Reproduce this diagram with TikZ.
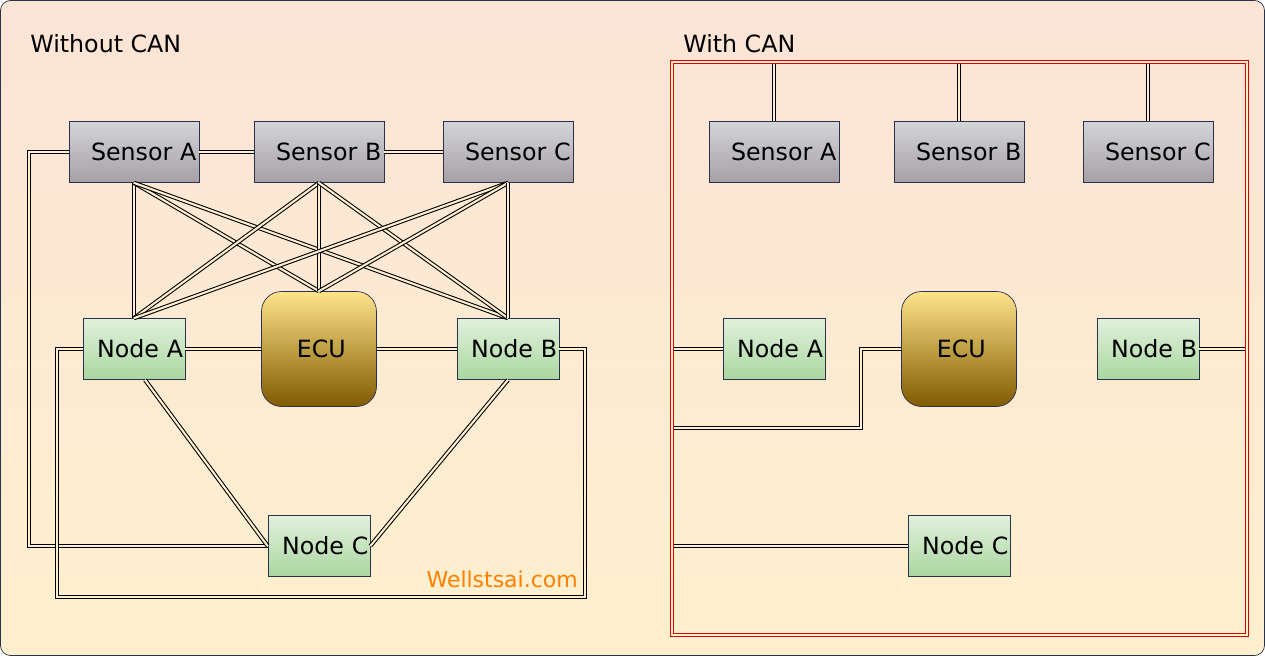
\documentclass[tikz,border=0pt]{standalone}
\usepackage{fontspec}
\setmainfont{DejaVu Sans}
\usetikzlibrary{positioning}

\definecolor{bgtop}{RGB}{252,228,214}
\definecolor{bgbot}{RGB}{254,240,206}
\definecolor{edge}{RGB}{40,50,75}
\definecolor{ecutop}{RGB}{255,228,140}
\definecolor{ecubot}{RGB}{128,90,0}
\definecolor{greytop}{RGB}{212,212,216}
\definecolor{greybot}{RGB}{165,160,165}
\definecolor{greentop}{RGB}{225,240,220}
\definecolor{greenbot}{RGB}{170,215,160}
\definecolor{mark}{RGB}{255,128,0}

\tikzset{
  sensor/.style={draw=edge, top color=greytop, bottom color=greybot, text width=2.6cm, minimum height=1.22cm, inner sep=0pt, execute at begin node={\hspace*{0.44cm}\mbox\bgroup}, execute at end node={\egroup}},
  ecunode/.style={draw=edge, top color=greentop, bottom color=greenbot, text width=2.04cm, minimum height=1.22cm, inner sep=0pt, execute at begin node={\hspace*{0.28cm}\mbox\bgroup}, execute at end node={\egroup}},
  ecu/.style={draw=edge, rounded corners=0.4cm, top color=ecutop, bottom color=ecubot, minimum width=2.3cm, minimum height=2.3cm},
  wire/.style={double=bgbot, draw=black, line width=0.6pt, double distance=1.2pt},
}

\begin{document}
\begin{tikzpicture}[x=0.02cm, y=-0.02cm, font=\fontsize{13.5}{16}\selectfont]

        % background
        \path[use as bounding box] (0,0) rectangle (1265,656);
        \draw[draw=edge, rounded corners=0.2cm, top color=bgtop, bottom color=bgbot] (0.5,0.5) rectangle (1264.5,655.5);

        \node[anchor=west, inner sep=0pt] (t1) at (30,44) {Without CAN};
        \node[anchor=west, inner sep=0pt] (t2) at (683,44) {With CAN};

        % without CAN
        \node[sensor] (sa) at (134,152) {Sensor A};
        \node[sensor] (sb) at (319,152) {Sensor B};
        \node[sensor] (sc) at (508,152) {Sensor C};
        \node[ecunode] (na) at (134,349) {Node A};
        \node[ecu] (ecu) at (319,349) {\hspace{0.2em}ECU};
        \node[ecunode] (nb) at (508,349) {Node B};
        \node[ecunode] (nc) at (319,546) {Node C};

        \draw[wire] (sa) -- (sb);
        \draw[wire] (sb) -- (sc);
        \draw[wire] (na) -- (ecu);
        \draw[wire] (ecu) -- (nb);
        \foreach \s in {sa,sb,sc}
          \foreach \t in {na,ecu,nb}
            \draw[wire] (\s.south) -- (\t.north);
        \draw[wire] (sa.west) -- (29,152) -- (29,546) -- (nc.west);
        \draw[wire] (na.west) -- (57,349) -- (57,597) -- (585,597) -- (585,349) -- (nb.east);
        \draw[wire] ([xshift=0.22cm]na.south) -- (nc.west);
        \draw[wire] (nb.south) -- (nc.east);

        \node[anchor=east, text=mark, inner sep=0pt, font=\fontsize{12.5}{15}\selectfont] (wm) at (578,579) {Wellstsai.com};

        % with CAN
        \draw[red!85!black, double=bgbot, double distance=1.5pt, line width=0.6pt] (672,62) rectangle (1247,635);
        \node[sensor] (sa2) at (774,152) {Sensor A};
        \node[sensor] (sb2) at (959,152) {Sensor B};
        \node[sensor] (sc2) at (1148,152) {Sensor C};
        \node[ecunode] (na2) at (774,349) {Node A};
        \node[ecu] (ecu2) at (959,349) {\hspace{0.2em}ECU};
        \node[ecunode] (nb2) at (1148,349) {Node B};
        \node[ecunode] (nc2) at (959,546) {Node C};

        \foreach \s in {sa2,sb2,sc2}
          \draw[wire] (\s.north) -- (\s.north |- 0,64);
        \draw[wire] (na2.west) -- (674,349);
        \draw[wire] (ecu2.west) -- (861,349) -- (861,428) -- (674,428);
        \draw[wire] (nb2.east) -- (1245,349);
        \draw[wire] (nc2.west) -- (674,546);

\end{tikzpicture}
\end{document}
